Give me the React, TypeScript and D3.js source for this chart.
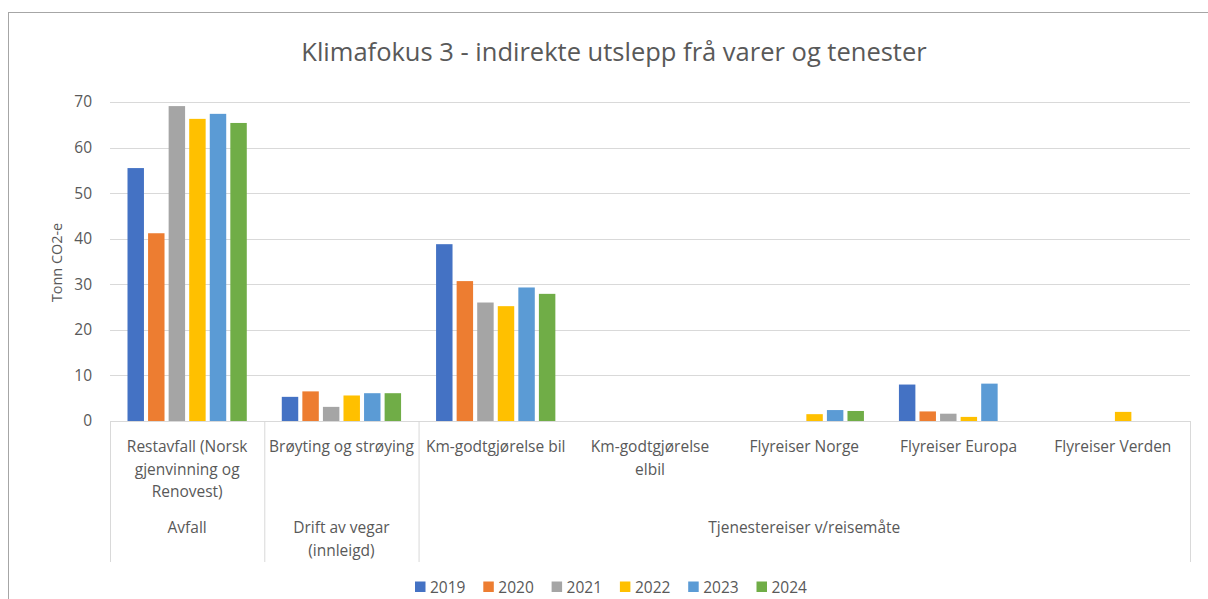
import React from 'react';
import * as d3 from 'd3';

// chart data
const categoryLines = [
    ['Restavfall (Norsk', 'gjenvinning og', 'Renovest)'],
    ['Brøyting og strøying'],
    ['Km-godtgjørelse bil'],
    ['Km-godtgjørelse', 'elbil'],
    ['Flyreiser Norge'],
    ['Flyreiser Europa'],
    ['Flyreiser Verden'],
];
const groupLines = [['Avfall'], ['Drift av vegar', '(innleigd)'], ['Tjenestereiser v/reisemåte']];
const groupSpans = [1, 1, 5];
const years = ['2019', '2020', '2021', '2022', '2023', '2024'];
const colors = ['#4472C4', '#ED7D31', '#A5A5A5', '#FFC000', '#5B9BD5', '#70AD47'];

const v2019 = [55.5, 5.3, 38.8, 0, 0, 8.0, 0];
const v2020 = [41.2, 6.5, 30.7, 0, 0, 2.1, 0];
const v2021 = [69.1, 3.1, 26.0, 0, 0, 1.6, 0];
const v2022 = [66.3, 5.6, 25.2, 0, 1.5, 0.9, 2.0];
const v2023 = [67.4, 6.1, 29.3, 0, 2.4, 8.2, 0];
const v2024 = [65.4, 6.1, 27.9, 0, 2.2, 0, 0];
const series = [v2019, v2020, v2021, v2022, v2023, v2024];
const yTicks = [0, 10, 20, 30, 40, 50, 60, 70];

const title = 'Klimafokus 3 - indirekte utslepp frå varer og tenester';
const yTitle = 'Tonn CO2-e';

const width = 1208,
    height = 599;
const left = 110,
    right = 1190,
    top = 102,
    bottom = 421;
const font = "'Open Sans', 'Noto Sans', sans-serif";
const textColor = '#595959';
const gridColor = '#d9d9d9';
const labelSize = 15.5;

export default function App() {
    const idx = categoryLines.map((_, i) => i);

    const x0 = d3.scaleBand<number>().domain(idx).range([left, right]).padding(0);
    const bw = x0.bandwidth();
    const x1 = d3
        .scaleBand<number>()
        .domain(years.map((_, i) => i))
        .range([17.5, bw - 17.5])
        .paddingInner(0.2)
        .paddingOuter(0);
    const y = d3.scaleLinear().domain([0, 70]).range([bottom, top]);

    // group boundaries on the category axis
    const bounds = [0];
    groupSpans.forEach((s) => bounds.push(bounds[bounds.length - 1] + s));
    const bx = (b: number) => (b === idx.length ? right : (x0(b) as number));

    return (
        <svg
            width={width}
            height={height}
            style={{ position: 'absolute', left: 0, top: 0, background: '#fff' }}
            fontFamily={font}
        >
            <rect x={8.5} y={12.5} width={1300} height={700} fill="#fff" stroke="#a6a6a6" strokeWidth={1} />

            <text x={614} y={61} textAnchor="middle" fontSize={25.5} fill={textColor}>
                {title}
            </text>

            {/* gridlines + y tick labels */}
            {yTicks.map((t) => (
                <g key={t}>
                    {t > 0 && (
                        <line x1={left} x2={right} y1={Math.round(y(t)) + 0.5} y2={Math.round(y(t)) + 0.5} stroke={gridColor} />
                    )}
                    <text x={92} y={y(t)} dy="0.35em" textAnchor="end" fontSize={labelSize} fill={textColor}>
                        {t}
                    </text>
                </g>
            ))}

            <text
                transform={`translate(62,${(top + bottom) / 2 + 1}) rotate(-90)`}
                textAnchor="middle"
                fontSize={14.4}
                fill={textColor}
            >
                {yTitle}
            </text>

            {/* bars */}
            {series.map((vals, si) =>
                vals.map((v, ci) =>
                    v > 0 ? (
                        <rect
                            key={`${si}-${ci}`}
                            x={(x0(ci) as number) + (x1(si) as number)}
                            y={y(v)}
                            width={x1.bandwidth()}
                            height={y(0) - y(v)}
                            fill={colors[si]}
                        />
                    ) : null
                )
            )}

            {/* category axis */}
            <line x1={left} x2={right} y1={bottom + 0.5} y2={bottom + 0.5} stroke={gridColor} />
            {bounds.map((b, i) => (
                <line key={i} x1={bx(b) + 0.5} x2={bx(b) + 0.5} y1={bottom} y2={562} stroke={gridColor} />
            ))}

            {categoryLines.map((lines, ci) => (
                <text key={ci} textAnchor="middle" fontSize={labelSize} fill={textColor}>
                    {lines.map((l, li) => (
                        <tspan key={li} x={(x0(ci) as number) + bw / 2} y={452 + li * 22.5}>
                            {l}
                        </tspan>
                    ))}
                </text>
            ))}

            {groupLines.map((lines, gi) => (
                <text key={gi} textAnchor="middle" fontSize={labelSize} fill={textColor}>
                    {lines.map((l, li) => (
                        <tspan key={li} x={(bx(bounds[gi]) + bx(bounds[gi + 1])) / 2} y={533 + li * 22.5}>
                            {l}
                        </tspan>
                    ))}
                </text>
            ))}

            {/* legend */}
            {years.map((yr, i) => (
                <g key={yr} transform={`translate(${415 + i * 68.3},581.5)`}>
                    <rect x={0} y={0} width={10.5} height={10.5} fill={colors[i]} />
                    <text x={15} y={5.5} dy="0.36em" fontSize={labelSize} fill={textColor}>
                        {yr}
                    </text>
                </g>
            ))}
        </svg>
    );
}
